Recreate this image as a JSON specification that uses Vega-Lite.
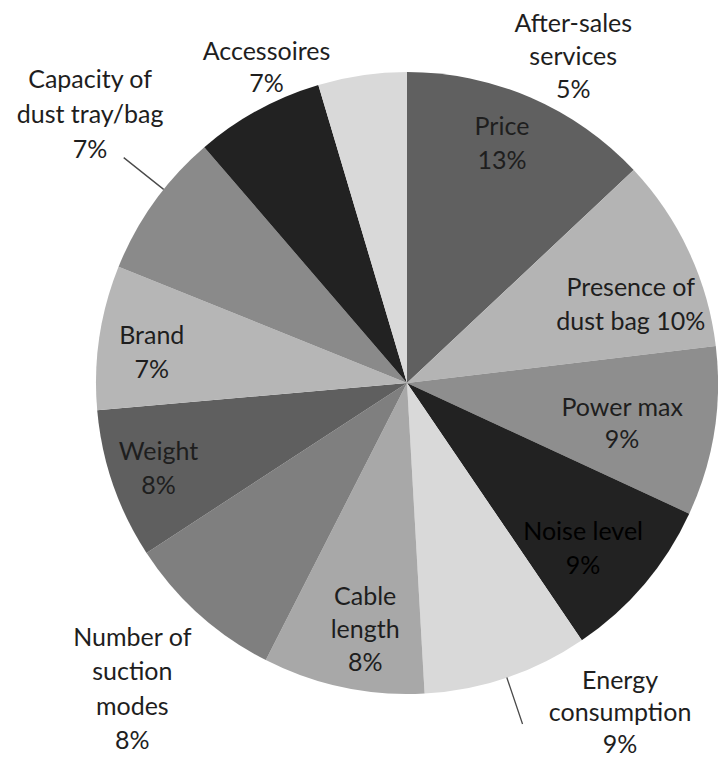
{
  "$schema": "https://vega.github.io/schema/vega-lite/v6.json",
  "width": 622,
  "height": 750,
  "autosize": {"type": "none"},
  "padding": {"left": 96, "top": 8, "right": 0, "bottom": 0},
  "background": "white",
  "config": {"view": {"stroke": null}},
  "data": {
    "values": [
      {"order": 1, "category": "Price", "share": 13.0, "label": "Price\n13%"},
      {"order": 2, "category": "Presence of dust bag", "share": 10.1, "label": "Presence of\ndust bag 10%"},
      {"order": 3, "category": "Power max", "share": 8.8, "label": "Power max\n9%"},
      {"order": 4, "category": "Noise level", "share": 8.6, "label": "Noise level\n9%"},
      {"order": 5, "category": "Energy consumption", "share": 8.6, "label": "Energy\nconsumption\n9%"},
      {"order": 6, "category": "Cable length", "share": 8.4, "label": "Cable\nlength\n8%"},
      {"order": 7, "category": "Number of suction modes", "share": 8.3, "label": "Number of\nsuction\nmodes\n8%"},
      {"order": 8, "category": "Weight", "share": 7.8, "label": "Weight\n8%"},
      {"order": 9, "category": "Brand", "share": 7.5, "label": "Brand\n7%"},
      {"order": 10, "category": "Capacity of dust tray/bag", "share": 7.6, "label": "Capacity of\ndust tray/bag\n7%"},
      {"order": 11, "category": "Accessoires", "share": 6.7, "label": "Accessoires\n7%"},
      {"order": 12, "category": "After-sales services", "share": 4.6, "label": "After-sales\nservices\n5%"}
    ]
  },
  "encoding": {
    "theta": {"field": "share", "type": "quantitative", "stack": true},
    "order": {"field": "order", "type": "quantitative"}
  },
  "layer": [
    {
      "mark": {"type": "arc", "stroke": null},
      "encoding": {
        "color": {
          "field": "category",
          "type": "nominal",
          "legend": null,
          "scale": {
            "domain": ["Price", "Presence of dust bag", "Power max", "Noise level", "Energy consumption", "Cable length", "Number of suction modes", "Weight", "Brand", "Capacity of dust tray/bag", "Accessoires", "After-sales services"],
            "range": ["#606060", "#b4b4b4", "#8e8e8e", "#222222", "#d9d9d9", "#a8a8a8", "#7f7f7f", "#5f5f5f", "#b6b6b6", "#8a8a8a", "#222222", "#d9d9d9"]
          }
        }
      }
    },
    {
      "mark": {"type": "arc", "innerRadius": 311, "outerRadius": 360, "padAngle": 3, "fillOpacity": 0, "stroke": "#4a4a4a", "strokeWidth": 1.3},
      "encoding": {
        "strokeOpacity": {"condition": {"test": "datum.category === 'Energy consumption'", "value": 1}, "value": 0}
      }
    },
    {
      "mark": {"type": "arc", "innerRadius": 311, "outerRadius": 362, "padAngle": 3, "thetaOffset": 0.05, "theta2Offset": 0.05, "fillOpacity": 0, "stroke": "#4a4a4a", "strokeWidth": 1.3},
      "encoding": {
        "strokeOpacity": {"condition": {"test": "datum.category === 'Capacity of dust tray/bag'", "value": 1}, "value": 0}
      }
    },
    {
      "mark": {"type": "text", "radius": 257, "thetaOffset": -0.03, "dy": -17, "font": "Lato", "fontSize": 25, "lineHeight": 34, "lineBreak": "\n", "align": "center", "baseline": "middle", "fill": "#1e1e1e"},
      "encoding": {"text": {"condition": {"test": "datum.category === 'Price' || datum.category === 'Brand'", "field": "label", "type": "nominal"}, "value": ""}}
    },
    {
      "mark": {"type": "text", "radius": 251, "thetaOffset": -0.04, "dy": -33, "font": "Lato", "fontSize": 25, "lineHeight": 33, "lineBreak": "\n", "align": "center", "baseline": "middle", "fill": "#1e1e1e"},
      "encoding": {"text": {"condition": {"test": "datum.category === 'Cable length'", "field": "label", "type": "nominal"}, "value": ""}}
    },
    {
      "mark": {"type": "text", "radius": 263, "dy": -17, "font": "Lato", "fontSize": 25, "lineHeight": 34, "lineBreak": "\n", "align": "center", "baseline": "middle", "fill": "#1e1e1e"},
      "encoding": {"text": {"condition": {"test": "datum.category === 'Weight'", "field": "label", "type": "nominal"}, "value": ""}}
    },
    {
      "mark": {"type": "text", "radius": 237, "thetaOffset": 0.101, "dy": -17, "font": "Lato", "fontSize": 25, "lineHeight": 34, "lineBreak": "\n", "align": "center", "baseline": "middle", "fill": "#1e1e1e"},
      "encoding": {"text": {"condition": {"test": "datum.category === 'Presence of dust bag'", "field": "label", "type": "nominal"}, "value": ""}}
    },
    {
      "mark": {"type": "text", "radius": 219, "thetaOffset": 0.031, "dy": -16, "font": "Lato", "fontSize": 25, "lineHeight": 32, "lineBreak": "\n", "align": "center", "baseline": "middle", "fill": "#1e1e1e"},
      "encoding": {"text": {"condition": {"test": "datum.category === 'Power max'", "field": "label", "type": "nominal"}, "value": ""}}
    },
    {
      "mark": {"type": "text", "radius": 242, "thetaOffset": 0.052, "dy": -17, "font": "Lato", "fontSize": 25, "lineHeight": 34, "lineBreak": "\n", "align": "center", "baseline": "middle", "fill": "#000000"},
      "encoding": {"text": {"condition": {"test": "datum.category === 'Noise level'", "field": "label", "type": "nominal"}, "value": ""}}
    },
    {
      "mark": {"type": "text", "radius": 395, "thetaOffset": -0.243, "dy": -35, "font": "Lato", "fontSize": 25, "lineHeight": 32, "lineBreak": "\n", "align": "center", "baseline": "middle", "fill": "#1e1e1e"},
      "encoding": {"text": {"condition": {"test": "datum.category === 'Energy consumption'", "field": "label", "type": "nominal"}, "value": ""}}
    },
    {
      "mark": {"type": "text", "radius": 411, "dy": -51, "font": "Lato", "fontSize": 25, "lineHeight": 34.5, "lineBreak": "\n", "align": "center", "baseline": "middle", "fill": "#1e1e1e"},
      "encoding": {"text": {"condition": {"test": "datum.category === 'Number of suction modes'", "field": "label", "type": "nominal"}, "value": ""}}
    },
    {
      "mark": {"type": "text", "radius": 415, "thetaOffset": 0.08, "dy": -35, "font": "Lato", "fontSize": 25, "lineHeight": 35, "lineBreak": "\n", "align": "center", "baseline": "middle", "fill": "#1e1e1e"},
      "encoding": {"text": {"condition": {"test": "datum.category === 'Capacity of dust tray/bag'", "field": "label", "type": "nominal"}, "value": ""}}
    },
    {
      "mark": {"type": "text", "radius": 345, "thetaOffset": 0.08, "dy": -16, "font": "Lato", "fontSize": 25, "lineHeight": 32, "lineBreak": "\n", "align": "center", "baseline": "middle", "fill": "#1e1e1e"},
      "encoding": {"text": {"condition": {"test": "datum.category === 'Accessoires'", "field": "label", "type": "nominal"}, "value": ""}}
    },
    {
      "mark": {"type": "text", "radius": 366, "thetaOffset": 0.616, "dy": -33, "font": "Lato", "fontSize": 25, "lineHeight": 33, "lineBreak": "\n", "align": "center", "baseline": "middle", "fill": "#1e1e1e"},
      "encoding": {"text": {"condition": {"test": "datum.category === 'After-sales services'", "field": "label", "type": "nominal"}, "value": ""}}
    }
  ]
}
